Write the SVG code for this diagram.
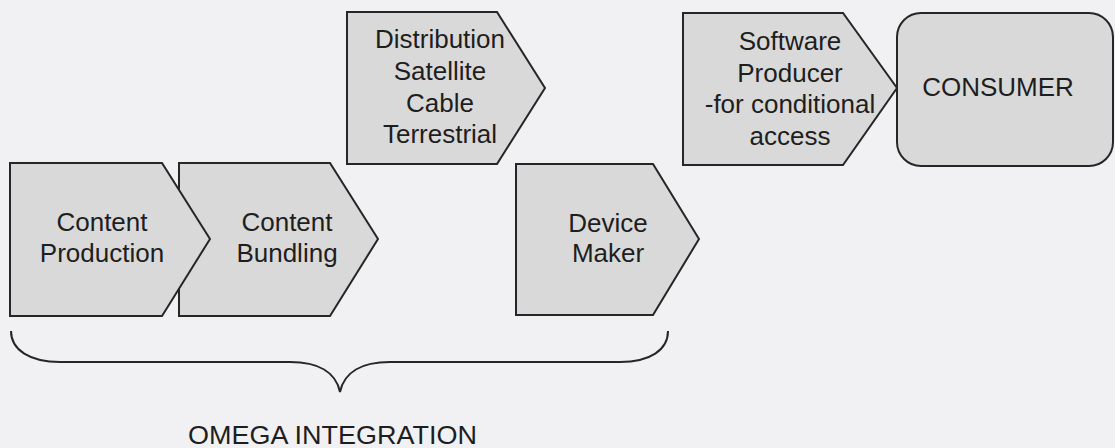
<svg xmlns="http://www.w3.org/2000/svg" width="1115" height="448" viewBox="0 0 1115 448">
  <style>
    .shape { fill: #d9d9d9; stroke: #262626; stroke-width: 2; stroke-linejoin: miter; }
    .label { font-family: "Liberation Sans", Arial, sans-serif; font-size: 26px; fill: #1e1e1e; text-anchor: middle; }
    .brace { fill: none; stroke: #262626; stroke-width: 2; }
  </style>
  <rect width="1115" height="448" fill="#f1f1f3"/>

  <!-- bundling sits underneath so the production chevron tip overlaps it -->
  <g id="content-bundling">
    <path class="shape" d="M179,163 H330 L378,239 L330,316 H179 Z"/>
    <text class="label" x="287" y="231">Content</text>
    <text class="label" x="287" y="262">Bundling</text>
  </g>

  <g id="content-production">
    <path class="shape" d="M10,163 H162 L210,239 L162,316 H10 Z"/>
    <text class="label" x="102" y="231">Content</text>
    <text class="label" x="102" y="262">Production</text>
  </g>

  <g id="distribution">
    <path class="shape" d="M347,12 H497 L545,88 L497,164 H347 Z"/>
    <text class="label" x="440" y="48">Distribution</text>
    <text class="label" x="440" y="80">Satellite</text>
    <text class="label" x="440" y="112">Cable</text>
    <text class="label" x="440" y="143">Terrestrial</text>
  </g>

  <g id="device-maker">
    <path class="shape" d="M516,164 H653 L699,239 L653,315 H516 Z"/>
    <text class="label" x="608" y="232">Device</text>
    <text class="label" x="608" y="262">Maker</text>
  </g>

  <g id="software-producer">
    <path class="shape" d="M683,13 H843 L897,88 L843,165 H683 Z"/>
    <text class="label" x="790" y="50">Software</text>
    <text class="label" x="790" y="82">Producer</text>
    <text class="label" x="790" y="113">-for conditional</text>
    <text class="label" x="790" y="145">access</text>
  </g>

  <g id="consumer">
    <rect class="shape" x="897" y="13" width="216" height="153" rx="24" ry="24"/>
    <text class="label" x="998" y="96">CONSUMER</text>
  </g>

  <g id="connectors">
    <!-- curly brace spanning the integrated stages -->
    <path class="brace" d="M11,331 C11,350 30,362 60,362 H290 C318,362 336,372 340,392 C344,372 362,362 390,362 H620 C650,362 668,350 668,331"/>
  </g>

  <g id="omega-integration">
    <text class="label" x="332.5" y="444" font-size="27" textLength="289" lengthAdjust="spacingAndGlyphs">OMEGA INTEGRATION</text>
  </g>
</svg>
